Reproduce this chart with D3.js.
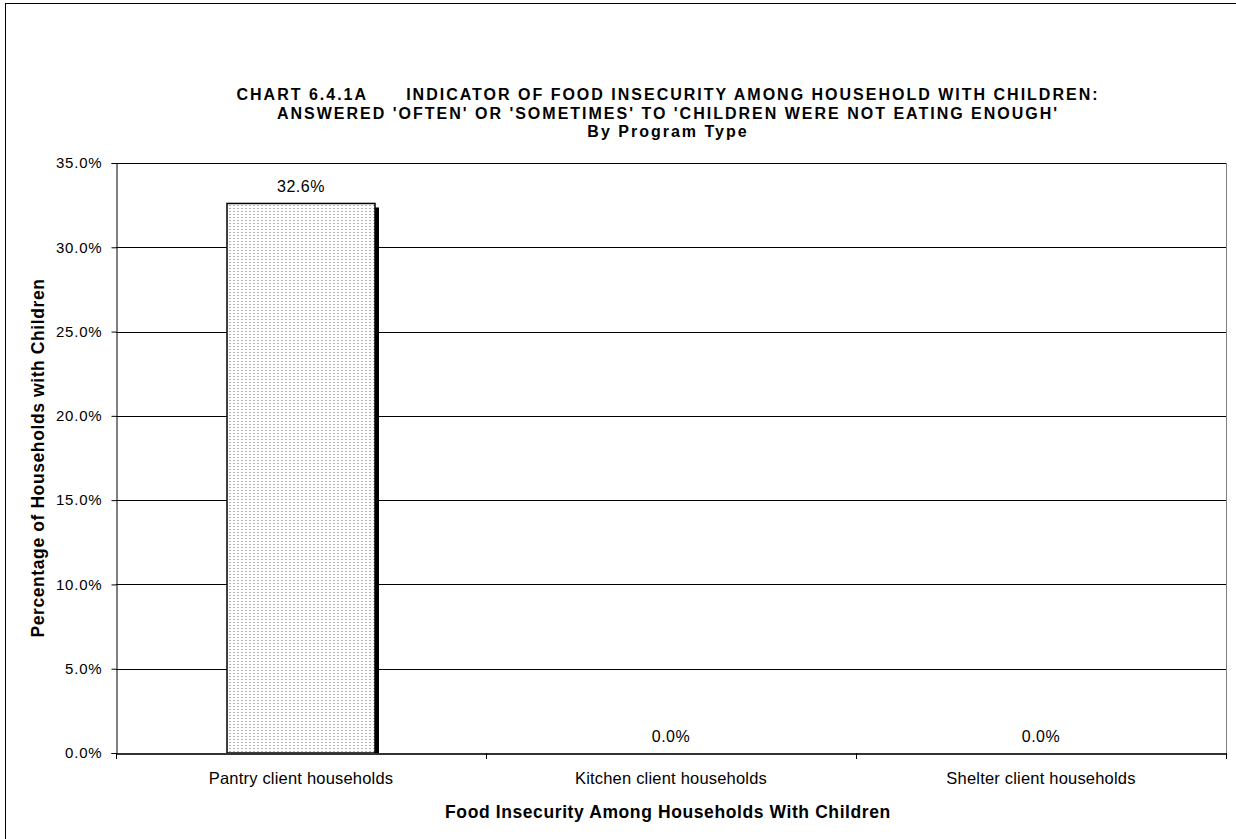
<!DOCTYPE html>
<html><head><meta charset="utf-8">
<script src="https://cdn.jsdelivr.net/npm/d3@7"></script>
<style>body{margin:0;background:#fff}svg{display:block;font-family:Arial,"Liberation Sans",sans-serif}</style>
</head><body><svg id="c" width="1236" height="839"></svg>
<script>
const categories = ["Pantry client households", "Kitchen client households", "Shelter client households"];
const values = [32.6, 0.0, 0.0];
const yTicks = [0, 5, 10, 15, 20, 25, 30, 35];
const titleLines = ["CHART 6.4.1A      INDICATOR OF FOOD INSECURITY AMONG HOUSEHOLD WITH CHILDREN:",
  "ANSWERED 'OFTEN' OR 'SOMETIMES' TO 'CHILDREN WERE NOT EATING ENOUGH'", "By Program Type"];
const xTitle = "Food Insecurity Among Households With Children";
const yTitle = "Percentage of Households with Children";

const svg = d3.select("#c");
const m = {l:116, r:1226, t:163, b:753};
svg.append("rect").attr("x",5.5).attr("y",3.5).attr("width",1250).attr("height",860)
  .attr("fill","none").attr("stroke","#000").attr("stroke-width",1);

const defs = svg.append("defs");
const pat = defs.append("pattern").attr("id","dots").attr("patternUnits","userSpaceOnUse")
  .attr("width",4).attr("height",3);
pat.append("rect").attr("width",4).attr("height",3).attr("fill","#fff");
pat.append("rect").attr("x",1).attr("y",1).attr("width",2).attr("height",1).attr("fill","#b4b4b4");

const x = d3.scaleBand().domain(categories).range([m.l, m.r]).padding(0);
const y = d3.scaleLinear().domain([0,35]).range([m.b, m.t]);

// gridlines
svg.append("g").selectAll("line").data(yTicks.filter(d=>d>0)).join("line")
  .attr("x1",m.l).attr("x2",m.r).attr("y1",d=>Math.round(y(d))+0.5).attr("y2",d=>Math.round(y(d))+0.5)
  .attr("stroke","#000").attr("stroke-width",1);
svg.append("line").attr("x1",m.r+0.5).attr("x2",m.r+0.5).attr("y1",m.t).attr("y2",m.b)
  .attr("stroke","#808080");

// y axis
const yAxis = svg.append("g").attr("transform",`translate(${m.l+0.5},0)`)
  .call(d3.axisLeft(y).tickValues(yTicks).tickFormat(d=>d.toFixed(1)+"%").tickSize(5).tickPadding(9));
yAxis.select(".domain").attr("stroke","#000");
yAxis.selectAll(".tick line").attr("stroke","#000");
yAxis.selectAll("text").attr("font-size",15).attr("letter-spacing",0.8).attr("fill","#000")
  .attr("font-family","Arial, Liberation Sans, sans-serif");

// bars
const bw = x.bandwidth()*0.4;
const bars = svg.append("g").selectAll("g").data(categories.map((c,i)=>({c,v:values[i]}))).join("g");
bars.filter(d=>d.v>0).append("rect")
  .attr("x",d=>x(d.c)+x.bandwidth()/2-bw/2+4).attr("y",d=>y(d.v)+4)
  .attr("width",bw).attr("height",d=>y(0)-y(d.v)-4).attr("fill","#000");
bars.filter(d=>d.v>0).append("rect")
  .attr("x",d=>x(d.c)+x.bandwidth()/2-bw/2).attr("y",d=>y(d.v))
  .attr("width",bw).attr("height",d=>y(0)-y(d.v))
  .attr("fill","url(#dots)").attr("stroke","#000").attr("stroke-width",1.5);
bars.append("text").attr("x",d=>x(d.c)+x.bandwidth()/2).attr("y",d=>y(d.v)-11)
  .attr("text-anchor","middle").attr("font-size",16).attr("letter-spacing",0.5).text(d=>d.v.toFixed(1)+"%");

// x axis
const xAxis = svg.append("g").attr("transform",`translate(0,${m.b+0.5})`)
  .call(d3.axisBottom(x).tickSize(0).tickPadding(19));
xAxis.select(".domain").attr("stroke","#333").attr("stroke-width",2);
xAxis.selectAll("text").attr("font-size",16.5).attr("letter-spacing",0.2).attr("fill","#000")
  .attr("font-family","Arial, Liberation Sans, sans-serif");
svg.append("g").selectAll("line").data(d3.range(categories.length+1)).join("line")
  .attr("x1",i=>Math.round(m.l+i*x.step())+0.5).attr("x2",i=>Math.round(m.l+i*x.step())+0.5)
  .attr("y1",m.b).attr("y2",m.b+6).attr("stroke","#000");

// titles
const cx = (m.l+m.r)/2 - 3;
svg.append("g").selectAll("text").data(titleLines).join("text")
  .attr("x",cx).attr("y",(d,i)=>100+i*18.6).attr("text-anchor","middle")
  .attr("font-size",16).attr("letter-spacing",2).attr("font-weight","bold").attr("xml:space","preserve")
  .style("white-space","pre").text(d=>d);
svg.append("text").attr("x",cx).attr("y",818).attr("text-anchor","middle")
  .attr("font-size",17.5).attr("letter-spacing",0.6).attr("font-weight","bold").text(xTitle);
svg.append("text").attr("transform",`translate(44,${(m.t+m.b)/2}) rotate(-90)`).attr("text-anchor","middle")
  .attr("font-size",17.5).attr("letter-spacing",0.6).attr("font-weight","bold").text(yTitle);
</script></body></html>
